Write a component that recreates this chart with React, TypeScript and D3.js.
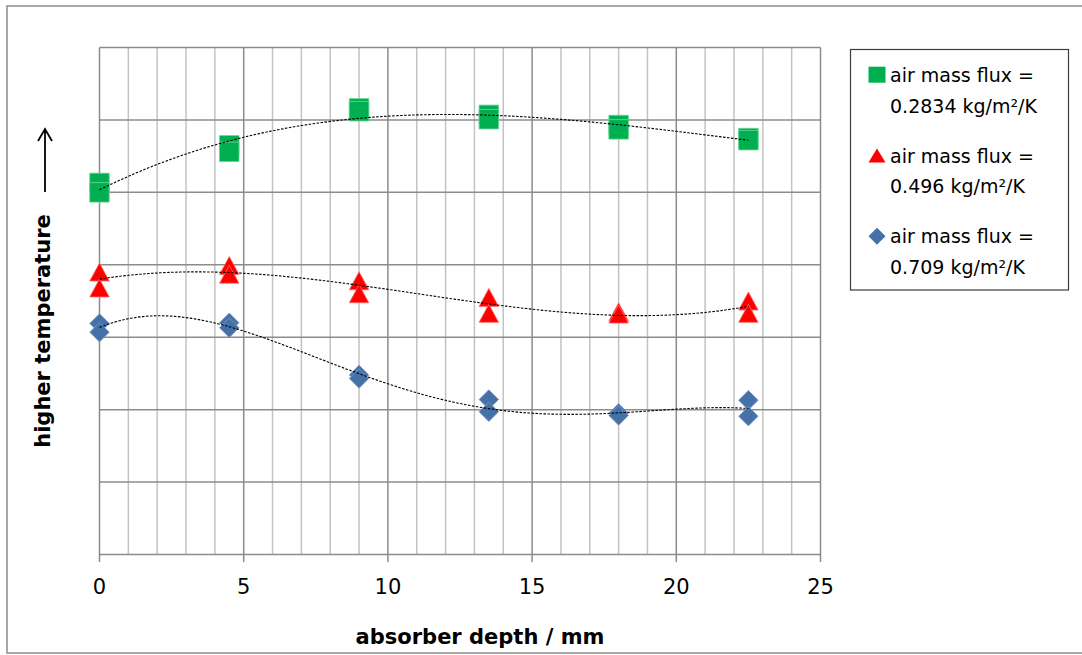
import React from 'react';
import * as d3 from 'd3';

// absorber depth in mm, every depth was measured twice
const depths = [0, 4.5, 9, 13.5, 18, 22.5];

// y values are in grid units (no scale printed on the original axis)
const greenRunA = [5.13, 5.65, 6.16, 6.07, 5.93, 5.75];
const greenRunB = [5.0, 5.56, 6.12, 6.01, 5.87, 5.72];
const redRunA = [3.9, 3.99, 3.78, 3.55, 3.35, 3.5];
const redRunB = [3.68, 3.87, 3.6, 3.33, 3.32, 3.33];
const blueRunA = [3.19, 3.2, 2.48, 2.14, 1.95, 2.13];
const blueRunB = [3.07, 3.13, 2.43, 1.97, 1.92, 1.91];

// order of the polynomial trendline of each series
const trendOrders = [3, 3, 4];

const xTicks = [0, 5, 10, 15, 20, 25];
const legendLine1 = 'air mass flux =';
const legendLine2 = ['0.2834 kg/m²/K', '0.496 kg/m²/K', '0.709 kg/m²/K'];

const W = 1082;
const H = 655;
const FONT = '"DejaVu Sans", sans-serif';

const x = d3.scaleLinear().domain([0, 25]).range([99.5, 820.5]);
const y = d3.scaleLinear().domain([0, 7]).range([554.5, 47.5]);

type Shape = 'square' | 'triangle' | 'diamond';

function markerPath(shape: Shape, w: number, h: number) {
  const p = d3.path();
  if (shape === 'square') {
    p.rect(-w / 2, -h / 2, w, h);
  } else if (shape === 'triangle') {
    p.moveTo(0, -h / 2);
    p.lineTo(w / 2, h / 2);
    p.lineTo(-w / 2, h / 2);
    p.closePath();
  } else {
    p.moveTo(0, -h / 2);
    p.lineTo(w / 2, 0);
    p.lineTo(0, h / 2);
    p.lineTo(-w / 2, 0);
    p.closePath();
  }
  return p.toString();
}

// least squares polynomial (like excel's "polynomial" trendline)
function polyFit(xs: number[], ys: number[], order: number) {
  const n = order + 1;
  const A: number[][] = [];
  for (let r = 0; r < n; r++) {
    A.push(new Array(n + 1).fill(0));
  }
  xs.forEach((xv, i) => {
    for (let r = 0; r < n; r++) {
      for (let c = 0; c < n; c++) A[r][c] += Math.pow(xv, r + c);
      A[r][n] += ys[i] * Math.pow(xv, r);
    }
  });
  for (let k = 0; k < n; k++) {
    let piv = k;
    for (let r = k + 1; r < n; r++) if (Math.abs(A[r][k]) > Math.abs(A[piv][k])) piv = r;
    [A[k], A[piv]] = [A[piv], A[k]];
    for (let r = 0; r < n; r++) {
      if (r === k) continue;
      const f = A[r][k] / A[k][k];
      for (let c = k; c <= n; c++) A[r][c] -= f * A[k][c];
    }
  }
  const coef = A.map((row, i) => row[n] / row[i]);
  return (t: number) => coef.reduce((s, cv, i) => s + cv * Math.pow(t, i), 0);
}

const series = [
  { runs: [greenRunA, greenRunB], color: '#00b050', edge: '#6fd49a', shape: 'square' as Shape, w: 19.5, h: 19.5, lw: 17, lh: 16 },
  { runs: [redRunA, redRunB], color: '#ff0000', edge: '#ff6b6b', shape: 'triangle' as Shape, w: 19.5, h: 18, lw: 17, lh: 14 },
  { runs: [blueRunA, blueRunB], color: '#4571a8', edge: '#7c9ac4', shape: 'diamond' as Shape, w: 19.5, h: 19.5, lw: 17, lh: 17 },
];

export default function App() {
  const minorX = d3.range(0, 26).filter((v) => v % 5 !== 0);
  const yGrid = d3.range(0, 8);
  const trendX = d3.range(0, 22.5 + 0.001, 0.1);

  return (
    <svg
      width={W}
      height={H}
      style={{ position: 'absolute', left: 0, top: 0, background: '#fff' }}
      fontFamily={FONT}
    >
      <rect x={7} y={6} width={1090} height={647} fill="#fff" stroke="#8c8c8c" strokeWidth={1.5} />

      {/* grid */}
      {minorX.map((v) => (
        <line key={'mx' + v} x1={x(v)} x2={x(v)} y1={y(7)} y2={y(0)} stroke="#c3c3c3" strokeWidth={1.5} />
      ))}
      {yGrid.map((v) => (
        <line key={'gy' + v} x1={x(0)} x2={x(25)} y1={y(v)} y2={y(v)} stroke="#8c8c8c" strokeWidth={1.5} />
      ))}
      {xTicks.map((v) => (
        <line key={'gx' + v} x1={x(v)} x2={x(v)} y1={y(7)} y2={y(0) + 7.5} stroke="#8c8c8c" strokeWidth={1.5} />
      ))}

      {xTicks.map((v) => (
        <text key={'t' + v} x={x(v)} y={594} textAnchor="middle" fontSize={21} fill="#000">
          {v}
        </text>
      ))}

      <text x={480} y={644} textAnchor="middle" fontSize={21} fontWeight="bold" fill="#000">
        absorber depth / mm
      </text>
      <text transform="translate(50,331) rotate(-90)" textAnchor="middle" fontSize={21} fontWeight="bold" fill="#000">
        higher temperature
      </text>
      <path d="M45,192 L45,129 M38,141 L45,129 L52,141" fill="none" stroke="#000" strokeWidth={1.8} />

      {/* markers */}
      {series.map((s, si) => (
        <g key={'s' + si}>
          {s.runs.map((run, ri) =>
            run.map((v, i) => (
              <path
                key={ri + '-' + i}
                d={markerPath(s.shape, s.w, s.h)}
                transform={`translate(${x(depths[i])},${y(v)})`}
                fill={s.color}
                stroke={s.edge}
                strokeWidth={0.8}
              />
            ))
          )}
        </g>
      ))}

      {/* polynomial trendlines */}
      {series.map((s, si) => {
        const xs = [...depths, ...depths];
        const ys = [...s.runs[0], ...s.runs[1]];
        const f = polyFit(xs, ys, trendOrders[si]);
        const d = d3
          .line<number>()
          .x((t) => x(t))
          .y((t) => y(f(t)))(trendX);
        return <path key={'tr' + si} d={d || ''} fill="none" stroke="#000" strokeWidth={1.1} strokeDasharray="2.5 1.5" />;
      })}

      {/* legend */}
      <rect x={850.5} y={49.5} width={218} height={240.5} fill="#fff" stroke="#3c3c3c" strokeWidth={1.2} />
      {series.map((s, si) => {
        const base = 81.7 + si * 80.8;
        return (
          <g key={'lg' + si}>
            <path d={markerPath(s.shape, s.lw, s.lh)} transform={`translate(877,${base - 7})`} fill={s.color} />
            <text x={890} y={base} fontSize={19} fill="#000">
              {legendLine1}
            </text>
            <text x={890} y={base + 30.8} fontSize={19} fill="#000">
              {legendLine2[si]}
            </text>
          </g>
        );
      })}
    </svg>
  );
}
